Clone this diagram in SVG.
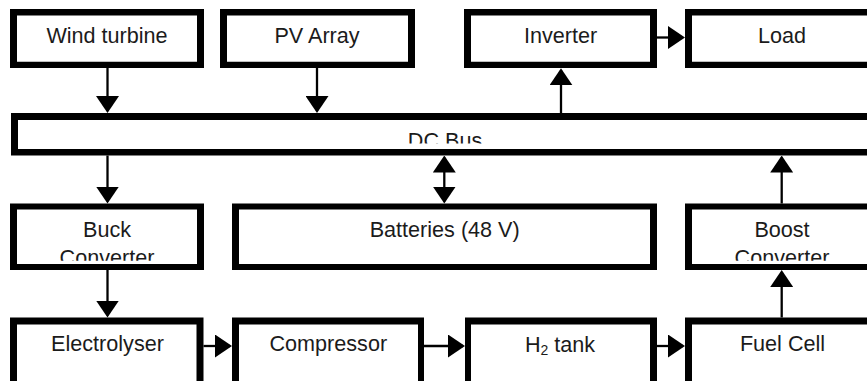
<svg xmlns="http://www.w3.org/2000/svg" width="867" height="381" viewBox="0 0 867 381">
<style>
.b{fill:#000;fill-rule:evenodd}
.t{font-family:"Liberation Sans",Arial,sans-serif;font-size:21.6px;fill:#1b1b1b;text-anchor:middle}
.c{stroke:#000;stroke-width:2.3;fill:none;marker-end:url(#ah)}
.d{stroke:#000;stroke-width:2.3;fill:none;marker-end:url(#ah);marker-start:url(#ah)}
</style>
<defs>
<marker id="ah" viewBox="0 0 17 23" refX="15" refY="11.5" markerWidth="17" markerHeight="23" markerUnits="userSpaceOnUse" orient="auto-start-reverse">
<path d="M0 0 L17 11.5 L0 23 Z" fill="#000"/>
</marker>
<clipPath id="cBus" clipPathUnits="userSpaceOnUse"><rect x="18" y="120" width="855" height="23.5"/></clipPath>
<clipPath id="cBuck" clipPathUnits="userSpaceOnUse"><rect x="17" y="209.5" width="180" height="51.2"/></clipPath>
<clipPath id="cBoost" clipPathUnits="userSpaceOnUse"><rect x="692" y="209.5" width="181" height="51.2"/></clipPath>
</defs>
<rect width="867" height="381" fill="#fff"/>
<g id="connectors">
<line class="c" x1="107.5" y1="68" x2="107.5" y2="111"/>
<line class="c" x1="317" y1="68" x2="317" y2="111"/>
<line class="c" x1="561" y1="113" x2="561" y2="70.3"/>
<line class="c" x1="657" y1="37.5" x2="683" y2="37.5"/>
<line class="c" x1="107.5" y1="155.5" x2="107.5" y2="201.5"/>
<line class="d" x1="444.3" y1="157.5" x2="444.3" y2="201.5"/>
<line class="c" x1="781.7" y1="203.5" x2="781.7" y2="157.5"/>
<line class="c" x1="107.5" y1="270" x2="107.5" y2="315.5"/>
<line class="c" x1="203.5" y1="346" x2="230" y2="346"/>
<line class="c" x1="424" y1="346" x2="463" y2="346"/>
<line class="c" x1="657" y1="346" x2="683" y2="346"/>
<line class="c" x1="781.7" y1="317.5" x2="781.7" y2="272"/>
</g>
<g id="wind">
<text class="t" x="107" y="43.3">Wind turbine</text>
<path class="b" d="M10 9H204V68H10Z M17 15.5V61.7H197V15.5Z"/>
</g>
<g id="pv">
<text class="t" x="317" y="43.3">PV Array</text>
<path class="b" d="M220 9H415V68H220Z M227 15.5V61.7H408V15.5Z"/>
</g>
<g id="inverter">
<text class="t" x="560.5" y="43.3">Inverter</text>
<path class="b" d="M464 9H657V68H464Z M471 15.5V61.7H650V15.5Z"/>
</g>
<g id="load">
<text class="t" x="782" y="43.3">Load</text>
<path class="b" d="M685 9H880V68H685Z M692 15.5V61.7H873V15.5Z"/>
</g>
<g id="dcbus">
<text class="t" x="445" y="148.3" clip-path="url(#cBus)">DC Bus</text>
<path class="b" d="M11 113H880V155.5H11Z M18 120V149H873V120Z"/>
</g>
<g id="buck">
<text class="t" x="107" y="236.7">Buck</text>
<text class="t" x="107" y="264.7" clip-path="url(#cBuck)">Converter</text>
<path class="b" d="M10 203.5H204V270H10Z M17 209.5V264H197V209.5Z"/>
</g>
<g id="batteries">
<text class="t" x="444.7" y="236.7">Batteries (48 V)</text>
<path class="b" d="M232 203.5H657V270H232Z M239 209.5V264H650V209.5Z"/>
</g>
<g id="boost">
<text class="t" x="782" y="236.7">Boost</text>
<text class="t" x="782" y="264.7" clip-path="url(#cBoost)">Converter</text>
<path class="b" d="M685 203.5H880V270H685Z M692 209.5V264H873V209.5Z"/>
</g>
<g id="electrolyser">
<text class="t" x="107.5" y="351">Electrolyser</text>
<path class="b" d="M10 317.5H203.5V395H10Z M17 324.5V388H196.5V324.5Z"/>
</g>
<g id="compressor">
<text class="t" x="328.3" y="351">Compressor</text>
<path class="b" d="M232 317.5H424V395H232Z M239 324.5V388H418V324.5Z"/>
</g>
<g id="h2tank">
<text class="t" x="560" y="351.5">H<tspan font-size="14" dy="3">2</tspan><tspan dy="-3"> tank</tspan></text>
<path class="b" d="M465 317.5H657V395H465Z M471 324.5V388H650V324.5Z"/>
</g>
<g id="fuelcell">
<text class="t" x="782.5" y="351">Fuel Cell</text>
<path class="b" d="M685 317.5H880V395H685Z M692 324.5V388H873V324.5Z"/>
</g>
</svg>
